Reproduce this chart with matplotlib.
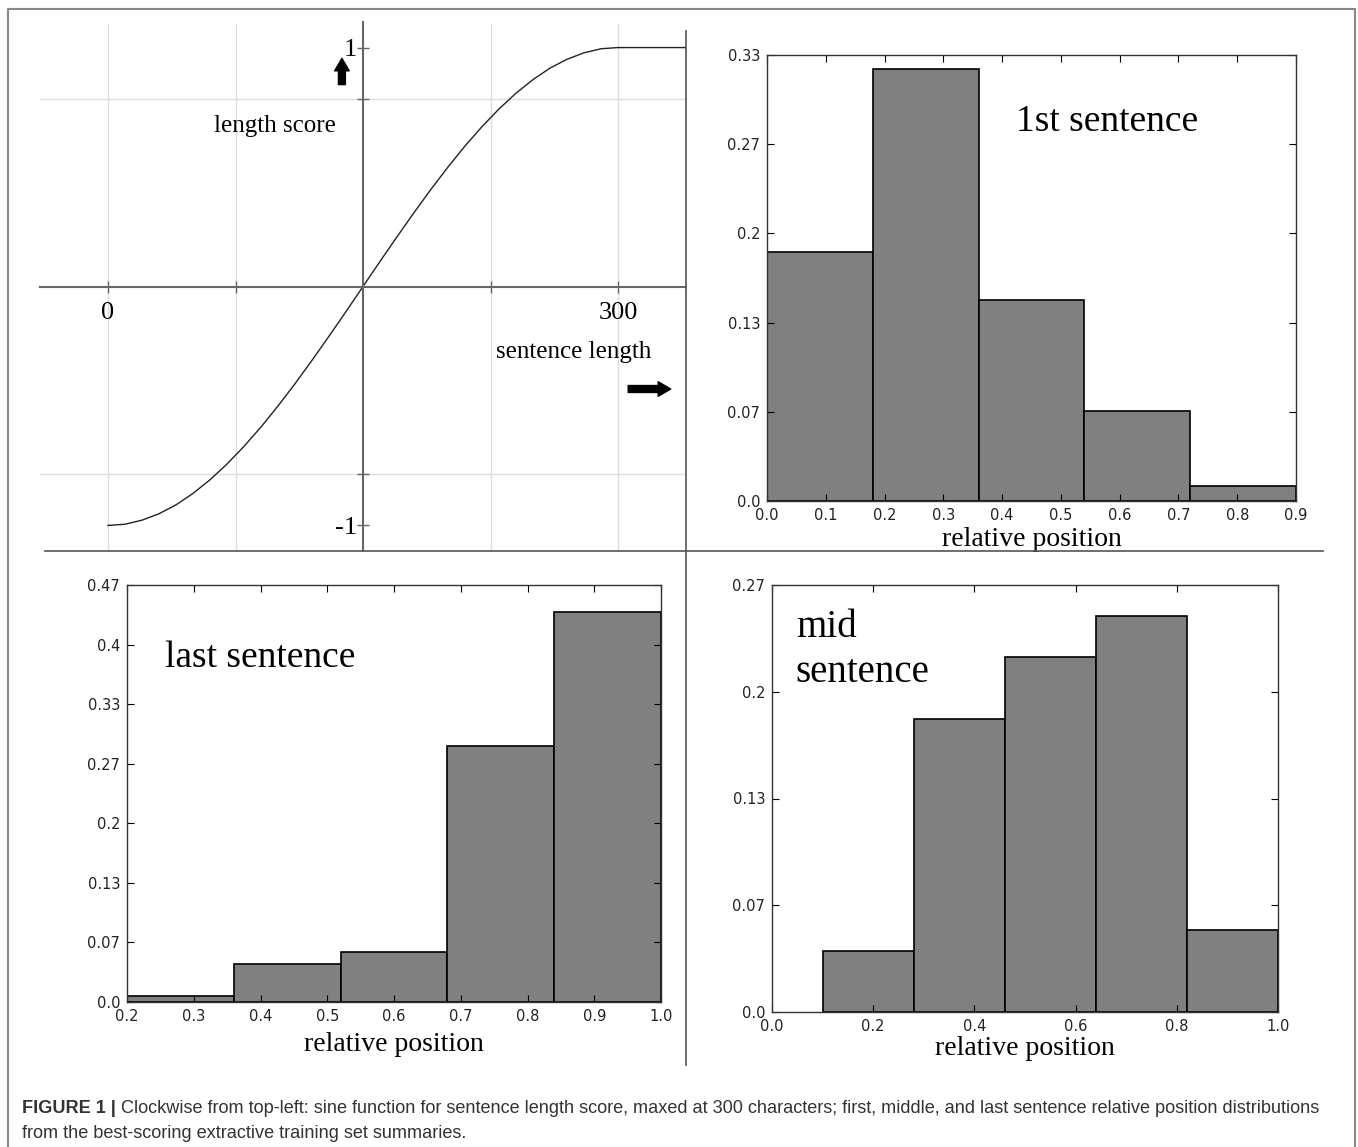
import matplotlib as mpl

mpl.use('agg')

import matplotlib.pyplot as plt
from matplotlib.lines import Line2D
import numpy as np

W, H = 1358, 1147
SERIF = 'Liberation Serif'

# sine length score
length_x = [0, 10, 20, 30, 40, 50, 60, 70, 80, 90, 100, 110, 120, 130, 140, 150,
            160, 170, 180, 190, 200, 210, 220, 230, 240, 250, 260, 270, 280, 290, 300, 340]
length_y = [-1.000, -0.995, -0.978, -0.951, -0.914, -0.866, -0.809, -0.743,
            -0.669, -0.588, -0.500, -0.407, -0.309, -0.208, -0.105, 0.000,
            0.105, 0.208, 0.309, 0.407, 0.500, 0.588, 0.669, 0.743,
            0.809, 0.866, 0.914, 0.951, 0.978, 0.995, 1.000, 1.000]
length_xticks = [0, 75, 225, 300]
length_xticklabels = ['0', '', '', '300']
length_yticks = [-1, -0.786, 0.786, 1]
length_yticklabels = ['-1', '', '', '1']

# relative position histograms (bin edges + bar heights)
first_edges = [0.0, 0.18, 0.36, 0.54, 0.72, 0.9]
first_heights = [0.186, 0.323, 0.150, 0.067, 0.011]
last_edges = [0.2, 0.36, 0.52, 0.68, 0.84, 1.0]
last_heights = [0.007, 0.042, 0.056, 0.286, 0.437]
mid_edges = [0.1, 0.28, 0.46, 0.64, 0.82, 1.0]
mid_heights = [0.038, 0.183, 0.222, 0.247, 0.051]

first_xticks = [0.0, 0.1, 0.2, 0.3, 0.4, 0.5, 0.6, 0.7, 0.8, 0.9]
last_xticks = [0.2, 0.3, 0.4, 0.5, 0.6, 0.7, 0.8, 0.9, 1.0]
mid_xticks = [0.0, 0.2, 0.4, 0.6, 0.8, 1.0]
first_yticks = [0, 1/15, 2/15, 3/15, 4/15, 5/15]
first_yticklabels = ['0.0', '0.07', '0.13', '0.2', '0.27', '0.33']
last_yticks = [0, 1/15, 2/15, 3/15, 4/15, 5/15, 6/15, 7/15]
last_yticklabels = ['0.0', '0.07', '0.13', '0.2', '0.27', '0.33', '0.4', '0.47']
mid_yticks = [0, 1/15, 2/15, 3/15, 4/15]
mid_yticklabels = ['0.0', '0.07', '0.13', '0.2', '0.27']

caption_head = 'FIGURE 1 |'
caption_line1 = ('Clockwise from top-left: sine function for sentence length score, maxed at 300 '
                 'characters; first, middle, and last sentence relative position distributions')
caption_line2 = 'from the best-scoring extractive training set summaries.'


def px_axes(fig, left, top, right, bottom):
    return fig.add_axes([left / W, 1 - bottom / H, (right - left) / W, (bottom - top) / H])


def px_line(fig, xs, ys, color='#555555', lw=1.2):
    fig.add_artist(Line2D([x / W for x in xs], [1 - y / H for y in ys],
                          transform=fig.transFigure, color=color, linewidth=lw))


def plot_length(ax):
    ax.set_xlim(-40, 340)
    ax.set_ylim(-1.107, 1.107)
    for x in length_xticks:
        ax.axvline(x, ymin=0.003, ymax=0.997, color='#dddddd', linewidth=1, zorder=0)
    for y in length_yticks[1:3]:
        ax.axhline(y, color='#dddddd', linewidth=1, zorder=0)
    ax.plot(length_x, length_y, color='#222222', linewidth=1.0)

    ax.spines['left'].set_position(('data', 150))
    ax.spines['bottom'].set_position(('data', 0))
    ax.spines['top'].set_visible(False)
    ax.spines['right'].set_visible(False)
    for s in ('left', 'bottom'):
        ax.spines[s].set_color('#666666')
        ax.spines[s].set_linewidth(1.5)
    ax.set_xticks(length_xticks, length_xticklabels)
    ax.set_yticks(length_yticks, length_yticklabels)
    ax.tick_params(direction='inout', length=9, width=1, color='#666666', labelsize=19)
    ax.tick_params(axis='x', pad=7)
    ax.tick_params(axis='y', pad=0)
    for t in ax.get_xticklabels() + ax.get_yticklabels():
        t.set_family(SERIF)
    ax.set_facecolor('none')

    ax.text(98, 0.672, 'length score', family=SERIF, fontsize=18, ha='center', va='center')
    ax.text(274, -0.275, 'sentence length', family=SERIF, fontsize=18, ha='center', va='center')
    arrow = dict(arrowstyle='simple,head_length=0.9,head_width=1.05,tail_width=0.5',
                 color='black', shrinkA=0, shrinkB=0)
    ax.annotate('', xy=(137.6, 0.955), xytext=(137.6, 0.845), arrowprops=arrow,
                annotation_clip=False)
    ax.annotate('', xy=(331, -0.429), xytext=(306, -0.429), arrowprops=arrow,
                annotation_clip=False)


def plot_hist(ax, edges, heights, xticks, yticks, yticklabels):
    lefts = edges[:-1]
    widths = np.diff(edges)
    ax.bar(lefts, heights, width=widths, align='edge', color='#808080',
           edgecolor='black', linewidth=1.2)
    ax.set_xlim(xticks[0], xticks[-1])
    ax.set_ylim(0, yticks[-1])
    ax.set_xticks(xticks, [f'{t:.1f}' for t in xticks])
    ax.set_yticks(yticks, yticklabels)
    ax.tick_params(direction='in', top=True, right=True, length=5, width=0.8,
                   labelsize=10.5, pad=5, labelcolor='#222222')
    for s in ax.spines.values():
        s.set_linewidth(1.0)
        s.set_color('#333333')
    ax.set_xlabel('relative position', family=SERIF, fontsize=20, va='top')


def main():
    fig = plt.figure(figsize=(W / 100, H / 100), dpi=100)

    # outer frame and panel separators
    px_line(fig, [8, 8, 1355, 1355], [1147, 9, 9, 1147], color='#888888', lw=1.5)
    px_line(fig, [45, 1323], [551, 551])
    px_line(fig, [686, 686], [31, 1065])

    ax_len = px_axes(fig, 40, 22, 686, 551)
    plot_length(ax_len)

    ax_first = px_axes(fig, 767, 55, 1296, 501)
    plot_hist(ax_first, first_edges, first_heights, first_xticks, first_yticks, first_yticklabels)
    ax_first.xaxis.set_label_coords(0.5, -0.058)
    ax_first.text(0.471, 0.830, '1st sentence', transform=ax_first.transAxes,
                  family=SERIF, fontsize=27, ha='left', va='baseline')

    ax_last = px_axes(fig, 127, 585, 661, 1002)
    plot_hist(ax_last, last_edges, last_heights, last_xticks, last_yticks, last_yticklabels)
    ax_last.xaxis.set_label_coords(0.5, -0.072)
    ax_last.text(0.071, 0.804, 'last sentence', transform=ax_last.transAxes,
                 family=SERIF, fontsize=27, ha='left', va='baseline')

    ax_mid = px_axes(fig, 772, 585, 1278, 1012)
    plot_hist(ax_mid, mid_edges, mid_heights, mid_xticks, mid_yticks, mid_yticklabels)
    ax_mid.xaxis.set_label_coords(0.5, -0.056)
    ax_mid.text(0.047, 0.878, 'mid', transform=ax_mid.transAxes,
                family=SERIF, fontsize=28, ha='left', va='baseline')
    ax_mid.text(0.047, 0.773, 'sentence', transform=ax_mid.transAxes,
                family=SERIF, fontsize=28, ha='left', va='baseline')

    # caption: bold head, then the rest of the line right after it
    cap = dict(family='Liberation Sans', fontsize=13.05, color='#333333', va='baseline')
    head = fig.text(22 / W, 1 - 1113 / H, caption_head, fontweight='bold', **cap)
    fig.canvas.draw()
    bb = head.get_window_extent()
    fig.text((bb.x1 + 5) / W, 1 - 1113 / H, caption_line1, **cap)
    fig.text(22 / W, 1 - 1138 / H, caption_line2, **cap)

    fig.savefig('out.png', dpi=100)


if __name__ == '__main__':
    main()
